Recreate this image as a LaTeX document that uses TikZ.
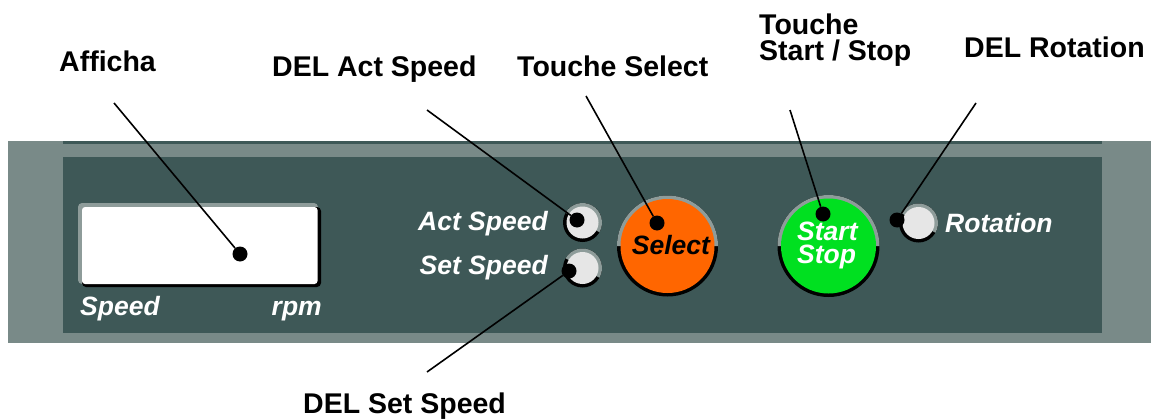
\documentclass[tikz,border=0pt]{standalone}
\usepackage{fontspec}
\setmainfont{Liberation Sans}
\usetikzlibrary{positioning}
\definecolor{panelgray}{HTML}{798A88}
\definecolor{paneldark}{HTML}{3E5857}
\definecolor{bevelgray}{HTML}{8E9C9A}
\definecolor{ledwhite}{HTML}{E6E6E6}
\definecolor{selorange}{HTML}{FF6600}
\definecolor{startgreen}{HTML}{00E020}

\begin{document}
\begin{tikzpicture}[
  x=1pt,y=-1pt,
  callout/.style={font=\fontsize{28.5}{25}\selectfont\bfseries,anchor=base west,inner sep=0pt,align=left},
  paneltxt/.style={font=\fontsize{26.5}{23}\selectfont\bfseries\itshape,text=white,inner sep=0pt},
  dot/.style={circle,fill=black,inner sep=0pt,minimum size=15pt},
  leader/.style={line width=1.6pt}
]
\useasboundingbox (0,0) rectangle (1151,420);
% front panel
\fill[panelgray] (8,141) rectangle (1151,343);
\fill[paneldark] (63,141) rectangle (1102,143.5);
\fill[paneldark] (63,157) rectangle (1102,333);
% display window
\fill[bevelgray,rounded corners=4pt] (78,203) rectangle (318,284);
\fill[black,rounded corners=4pt] (82,207) rectangle (321,287);
\fill[white,rounded corners=3pt] (82,207) rectangle (317.5,284);
% LEDs
\foreach \cx/\cy in {582.5/222.5,582.5/268,918.5/223} {
  \fill[black] (\cx,\cy) circle[radius=19.5];
  \fill[bevelgray] (\cx,\cy) ++(210:19.5) arc[start angle=210,end angle=390,radius=19.5] -- cycle;
  \fill[ledwhite] (\cx,\cy) circle[radius=16];
}
% push buttons
\fill[black] (667.5,246) circle[radius=50.5];
\fill[bevelgray] (667.5,246) ++(180:50.5) arc[start angle=180,end angle=360,radius=50.5] -- cycle;
\fill[selorange] (667.5,246) circle[radius=47];
\fill[black] (828.5,246) circle[radius=51];
\fill[bevelgray] (828.5,246) ++(180:51) arc[start angle=180,end angle=360,radius=51] -- cycle;
\fill[startgreen] (828.5,246) circle[radius=47.5];
% panel texts
\node[paneltxt,anchor=base west] (tSpeed) at (80,315) {Speed};
\node[paneltxt,anchor=base east] (tRpm) at (322,315) {rpm};
\node[paneltxt,anchor=base east] (tAct) at (548,230) {Act Speed};
\node[paneltxt,anchor=base east] (tSet) at (548,274) {Set Speed};
\node[paneltxt,anchor=base,text=black] (tSelect) at (671,254) {Select};
\node[paneltxt,anchor=base west,align=left] (tStart) at (797,263) {Start\\Stop};
\node[paneltxt,anchor=base west] (tRot) at (945,232) {Rotation};
% callout labels
\node[callout] (lAffich) at (59,72) {Afficha};
\node[callout] (lActSpeed) at (272,77) {DEL Act Speed};
\node[callout] (lSelect) at (517,77) {Touche Select};
\node[callout] (lStartStop) at (759,60) {Touche\\Start / Stop};
\node[callout] (lRotation) at (964,58) {DEL Rotation};
\node[callout] (lSetSpeed) at (303,413) {DEL Set Speed};
% leader ends
\coordinate (cAffich) at (114,103);
\coordinate (cActSpeed) at (427,110);
\coordinate (cSelect) at (586,96);
\coordinate (cStartStop) at (790,110);
\coordinate (cRotation) at (976,103);
\coordinate (cSetSpeed) at (427,372);
% dots
\node[dot] (dDisplay) at (240,254) {};
\node[dot] (dAct) at (577,220) {};
\node[dot] (dSet) at (569,271) {};
\node[dot] (dSelect) at (657,223) {};
\node[dot] (dStart) at (823,214) {};
\node[dot] (dRot) at (897,220) {};
\draw[leader] (cAffich) -- (dDisplay);
\draw[leader] (cActSpeed) -- (dAct);
\draw[leader] (cSetSpeed) -- (dSet);
\draw[leader] (cSelect) -- (dSelect);
\draw[leader] (cStartStop) -- (dStart);
\draw[leader] (cRotation) -- (dRot);
\end{tikzpicture}
\end{document}
